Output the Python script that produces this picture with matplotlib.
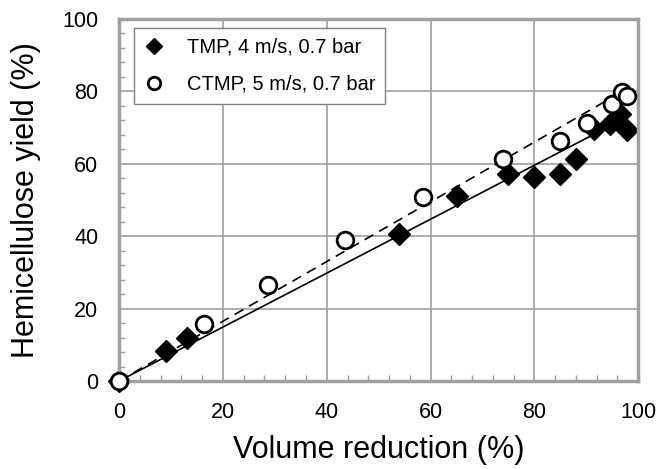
import matplotlib
matplotlib.use('Agg')
import matplotlib.pyplot as plt
import numpy as np
from matplotlib.ticker import MultipleLocator

plt.rcParams['font.family'] = ['Liberation Sans', 'DejaVu Sans']

# TMP, 4 m/s, 0.7 bar
tmp_x = [0, 9, 13, 54, 65, 75, 80, 85, 88, 91.5, 94.5, 96.5, 97.8]
tmp_y = [0, 8.3, 12, 40.7, 51.2, 57.2, 56.3, 57.2, 61.2, 69.6, 71.0, 73.8, 69.3]

# CTMP, 5 m/s, 0.7 bar
ctmp_x = [0, 16.4, 28.6, 43.6, 58.6, 74, 84.9, 90.1, 94.9, 96.9, 97.8]
ctmp_y = [0, 15.7, 26.6, 39.0, 50.8, 61.3, 66.4, 71.2, 76.5, 79.7, 78.8]

# fitted lines through origin
tmp_slope = 0.745
ctmp_slope = 0.825
fit_x = [0, 97.8]

fig = plt.figure(figsize=(6.58, 4.69), dpi=100)
ax = fig.add_axes([0.181, 0.1876, 0.789, 0.772])

ax.plot(fit_x, [tmp_slope * v for v in fit_x], color='black', lw=1.2, zorder=3)
ax.plot(fit_x, [ctmp_slope * v for v in fit_x], color='black', lw=1.2,
        ls=(0, (6, 4)), zorder=3)

ax.plot(tmp_x, tmp_y, 'D', color='black', ms=11.5, ls='none', zorder=4,
        clip_on=False, label='TMP, 4 m/s, 0.7 bar')
ax.plot(ctmp_x, ctmp_y, 'o', mfc='white', mec='black', mew=2, ms=12,
        ls='none', zorder=7, clip_on=False, label='CTMP, 5 m/s, 0.7 bar')

ax.set_xlim(0, 100)
ax.set_ylim(0, 100)
ax.xaxis.set_major_locator(MultipleLocator(20))
ax.yaxis.set_major_locator(MultipleLocator(20))
ax.xaxis.set_minor_locator(MultipleLocator(4))
ax.yaxis.set_minor_locator(MultipleLocator(4))
ax.grid(True, which='major', color='#a0a0a0', lw=1.2)
ax.set_axisbelow(True)
for s in ax.spines.values():
    s.set_color('#a0a0a0')
    s.set_linewidth(2.5)
    s.set_zorder(6)
ax.tick_params(which='major', length=0, labelsize=15.5, pad=15)
ax.tick_params(which='minor', direction='in', length=4, color='#a0a0a0', width=1)

ax.set_xlabel('Volume reduction (%)', fontsize=22, labelpad=9)
ax.set_ylabel('Hemicellulose yield (%)', fontsize=22, labelpad=15)

leg = ax.legend(loc='upper left', bbox_to_anchor=(0.029, 0.976), fontsize=14.5,
                frameon=True, fancybox=False, edgecolor='#808080',
                borderaxespad=0, handlelength=1.0, handletextpad=1.1,
                borderpad=0.5, labelspacing=0.9, markerscale=0.75,
                framealpha=1)
leg.get_frame().set_linewidth(1)
leg.set_zorder(8)

fig.savefig('out.png', dpi=100)
